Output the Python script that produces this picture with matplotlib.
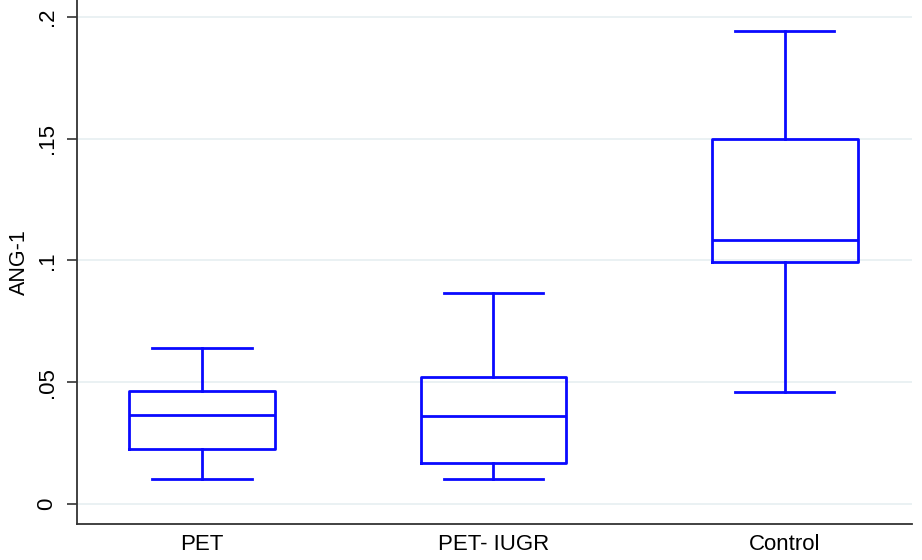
import matplotlib.pyplot as plt

plt.rcParams["font.family"] = ["Liberation Sans", "DejaVu Sans"]

GROUPS = ["PET", "PET- IUGR", "Control"]
# five-number summaries of ANG-1 per group
WHISKER_LOW = [0.0101, 0.0101, 0.0459]
Q1 = [0.0225, 0.0167, 0.0995]
MEDIAN = [0.0365, 0.0360, 0.1083]
Q3 = [0.0463, 0.0520, 0.1498]
WHISKER_HIGH = [0.0640, 0.0866, 0.1942]

Y_TICKS = [0, 0.05, 0.1, 0.15, 0.2]
Y_TICK_LABELS = ["0", ".05", ".1", ".15", ".2"]

BLUE = "#0a0aff"

stats = []
for i, name in enumerate(GROUPS):
    stats.append({
        "label": name,
        "whislo": WHISKER_LOW[i],
        "q1": Q1[i],
        "med": MEDIAN[i],
        "q3": Q3[i],
        "whishi": WHISKER_HIGH[i],
        "fliers": [],
    })

fig = plt.figure(figsize=(9.22, 5.6), dpi=100)
ax = fig.add_axes([77 / 922, 36 / 560, (912 - 77) / 922, 524 / 560])

line = dict(color=BLUE, linewidth=2.0)
ax.bxp(
    stats,
    positions=[1, 2, 3],
    widths=0.5,
    capwidths=0.34,
    showfliers=False,
    boxprops=line,
    whiskerprops=line,
    capprops=line,
    medianprops=line,
)

ax.set_xlim(0.571, 3.436)
ax.set_ylim(-0.0083, 0.207)
ax.set_yticks(Y_TICKS)
ax.set_yticklabels(Y_TICK_LABELS, rotation=90, va="center", fontsize=16)
ax.set_xticks([1, 2, 3])
ax.set_xticklabels(GROUPS, fontsize=16)
ax.tick_params(axis="x", length=0, pad=7)
ax.tick_params(axis="y", length=7, width=1.2, color="#333333", pad=7)
ax.set_ylabel("ANG-1", fontsize=15.5, labelpad=5)

ax.yaxis.grid(True, color="#e8f0f2", linewidth=1.3)
ax.set_axisbelow(True)
for side in ("top", "right"):
    ax.spines[side].set_visible(False)
for side in ("left", "bottom"):
    ax.spines[side].set_color("#333333")
    ax.spines[side].set_linewidth(1.3)

fig.savefig("out.png", dpi=100)
